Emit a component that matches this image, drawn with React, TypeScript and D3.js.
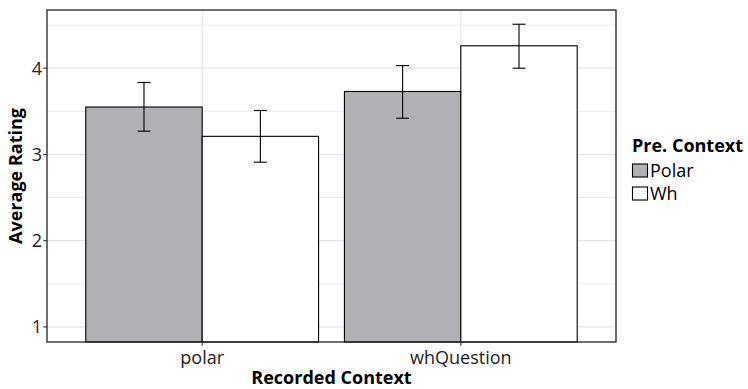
import React from 'react';
import * as d3 from 'd3';

const contexts = ['polar', 'whQuestion'];
const preContexts = ['Polar', 'Wh'];
const means = [
  [3.55, 3.21],
  [3.73, 4.26],
];
const errLow = [
  [3.27, 2.91],
  [3.42, 4.0],
];
const errHigh = [
  [3.835, 3.51],
  [4.03, 4.51],
];
const yTicks = [1, 2, 3, 4];
const yMinor = [1.5, 2.5, 3.5, 4.5];
const fills = ['#b1b1b5', '#ffffff'];

const font = '"Open Sans", sans-serif';

export default function App() {
  const width = 748, height = 389;
  const left = 47, right = 616, top = 10, bottom = 342;

  // discrete axis like ggplot: 0.6 expansion on each side
  const x = d3.scaleLinear().domain([0.4, contexts.length + 0.6]).range([left, right]);
  const y = d3.scaleLinear().domain([0.825, 4.675]).range([bottom, top]);
  const barW = 0.45;
  const capW = 0.05;

  return (
    <svg width={width} height={height} style={{ position: 'absolute', left: 0, top: 0 }}>
      <rect x={0} y={0} width={width} height={height} fill="#fff" />
      {yMinor.map(v => (
        <line key={'mi' + v} x1={left} x2={right} y1={y(v)} y2={y(v)} stroke="#ebebeb" strokeWidth={1} />
      ))}
      {yTicks.map(v => (
        <line key={'ma' + v} x1={left} x2={right} y1={y(v)} y2={y(v)} stroke="#e6e6e6" strokeWidth={1.2} />
      ))}
      {contexts.map((c, i) => (
        <line key={'vx' + c} x1={x(i + 1)} x2={x(i + 1)} y1={top} y2={bottom} stroke="#e6e6e6" strokeWidth={1.2} />
      ))}
      {contexts.map((c, i) =>
        preContexts.map((p, j) => {
          const x0 = x(i + 1 - barW + j * barW);
          const x1 = x(i + 1 + j * barW);
          return (
            <rect key={c + p} x={x0} y={y(means[i][j])} width={x1 - x0} height={bottom - y(means[i][j])}
              fill={fills[j]} stroke="#000" strokeWidth={1.1} />
          );
        })
      )}
      {contexts.map((c, i) =>
        preContexts.map((p, j) => {
          const cx = x(i + 1 - barW / 2 + j * barW);
          const hw = x(capW) - x(0);
          return (
            <g key={'e' + c + p} stroke="#000" strokeWidth={1.1}>
              <line x1={cx} x2={cx} y1={y(errLow[i][j])} y2={y(errHigh[i][j])} />
              <line x1={cx - hw / 2} x2={cx + hw / 2} y1={y(errLow[i][j])} y2={y(errLow[i][j])} />
              <line x1={cx - hw / 2} x2={cx + hw / 2} y1={y(errHigh[i][j])} y2={y(errHigh[i][j])} />
            </g>
          );
        })
      )}
      <rect x={left} y={top} width={right - left} height={bottom - top} fill="none" stroke="#222" strokeWidth={1.3} />
      {yTicks.map(v => (
        <g key={'yt' + v}>
          <line x1={left - 3.7} x2={left} y1={y(v)} y2={y(v)} stroke="#333" strokeWidth={1.1} />
          <text x={left - 5} y={y(v)} dy="0.36em" textAnchor="end" fontFamily={font} fontSize={18} fill="#222">{v}</text>
        </g>
      ))}
      {contexts.map((c, i) => (
        <g key={'xt' + c}>
          <line x1={x(i + 1)} x2={x(i + 1)} y1={bottom} y2={bottom + 3.7} stroke="#333" strokeWidth={1.1} />
          <text x={x(i + 1)} y={364} textAnchor="middle" fontFamily={font} fontSize={18} fill="#222">{c}</text>
        </g>
      ))}
      <text x={(left + right) / 2} y={384} textAnchor="middle" fontFamily={font} fontSize={18} fontWeight="bold" fill="#000">Recorded Context</text>
      <text transform={`translate(22,${(top + bottom) / 2}) rotate(-90)`} textAnchor="middle" fontFamily={font} fontSize={18} fontWeight="bold" fill="#000">Average Rating</text>
      <text x={632} y={152} fontFamily={font} fontSize={18} fontWeight="bold" fill="#000">Pre. Context</text>
      {preContexts.map((p, j) => (
        <g key={'lg' + p}>
          <rect x={632.5} y={164 + j * 23} width={15} height={13} fill={fills[j]} stroke="#000" strokeWidth={1.1} />
          <text x={650} y={177 + j * 23} fontFamily={font} fontSize={18} fill="#000">{p}</text>
        </g>
      ))}
    </svg>
  );
}
